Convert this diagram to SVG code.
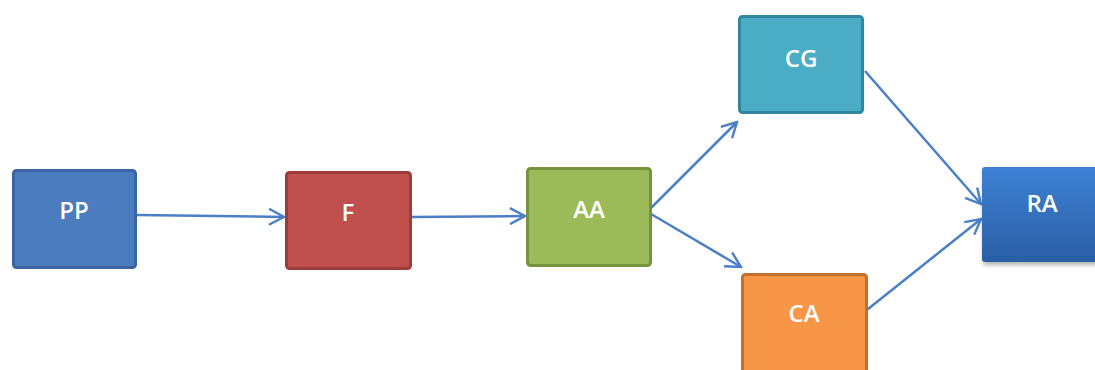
<svg xmlns="http://www.w3.org/2000/svg" width="1095" height="370" viewBox="0 0 1095 370">
<defs>
<marker id="arr" viewBox="0 0 18 18" refX="16" refY="9" markerWidth="18" markerHeight="18" markerUnits="userSpaceOnUse" orient="auto">
<path d="M1,1 L16,9 L1,17" fill="none" stroke="#4a7fc8" stroke-width="2.4"/>
</marker>
<linearGradient id="raG" x1="0" y1="0" x2="0" y2="1">
<stop offset="0" stop-color="#3d80d4"/>
<stop offset="1" stop-color="#2b5fa5"/>
</linearGradient>
<filter id="sh" x="-10%" y="-10%" width="130%" height="130%">
<feDropShadow dx="1" dy="3" stdDeviation="2" flood-color="#000" flood-opacity="0.3"/>
</filter>
</defs>
<style>
.box{stroke-width:3}
.lbl{font-family:"Open Sans","Liberation Sans",sans-serif;font-size:24px;font-weight:600;fill:#fff;text-anchor:middle}
.con{stroke:#4a7fc8;stroke-width:2.5;fill:none;marker-end:url(#arr)}
</style>
<rect width="1095" height="370" fill="#fff"/>
<g id="connectors">
<line class="con" x1="137" y1="215" x2="284" y2="217"/>
<line class="con" x1="412" y1="217" x2="525" y2="216"/>
<line class="con" x1="651" y1="208" x2="737" y2="122"/>
<line class="con" x1="651" y1="214" x2="741" y2="267"/>
<line class="con" x1="865" y1="71" x2="981" y2="204"/>
<line class="con" x1="863" y1="313" x2="981" y2="219"/>
</g>
<g id="PP">
<rect class="box" x="13.5" y="170.5" width="122" height="97" rx="3" fill="#4a7cbf" stroke="#3a65a2"/>
<text class="lbl" x="74" y="219">PP</text>
</g>
<g id="F">
<rect class="box" x="286.5" y="172.5" width="124" height="96" rx="3" fill="#c0504d" stroke="#9d3c39"/>
<text class="lbl" x="348" y="221">F</text>
</g>
<g id="AA">
<rect class="box" x="527.5" y="168.5" width="123" height="97" rx="3" fill="#9bbb59" stroke="#77933c"/>
<text class="lbl" x="589" y="218">AA</text>
</g>
<g id="CG">
<rect class="box" x="739.5" y="16.5" width="123" height="96" rx="3" fill="#4bacc6" stroke="#31869d"/>
<text class="lbl" x="801" y="67">CG</text>
</g>
<g id="CA">
<rect class="box" x="742.5" y="274.5" width="124" height="100" rx="3" fill="#f79646" stroke="#c4702d"/>
<text class="lbl" x="804" y="322">CA</text>
</g>
<g id="RA">
<rect x="982" y="167" width="120" height="95" rx="3" fill="url(#raG)" filter="url(#sh)"/>
<text class="lbl" x="1042" y="212">RA</text>
</g>
</svg>
